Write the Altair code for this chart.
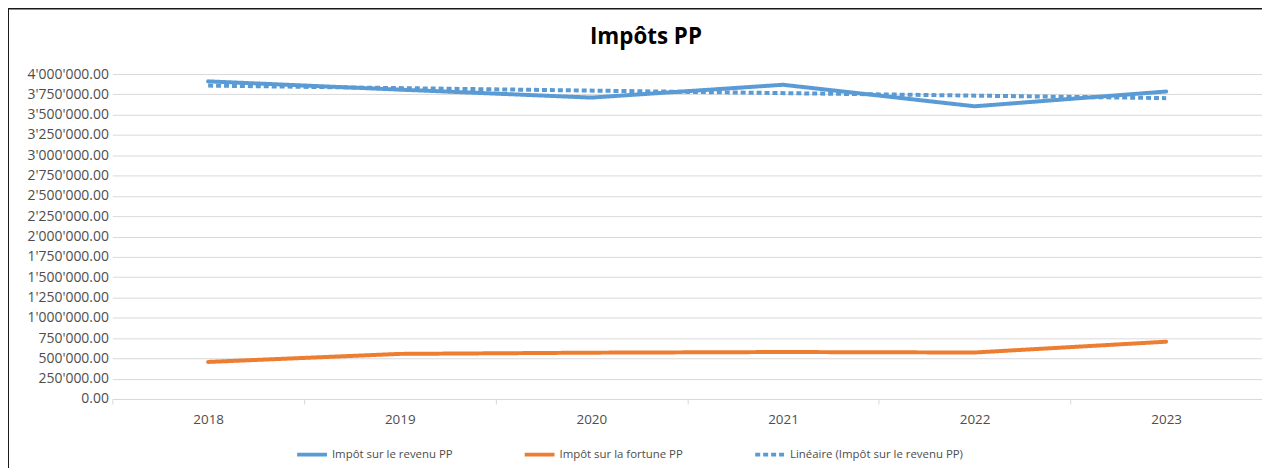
import altair as alt
import pandas as pd

years = [2018, 2019, 2020, 2021, 2022, 2023]
revenu = [3910000, 3808000, 3710000, 3868000, 3603000, 3785000]
fortune = [456000, 555000, 570000, 578000, 572000, 705000]

s_rev = "Impôt sur le revenu PP"
s_fort = "Impôt sur la fortune PP"
s_lin = "Linéaire (Impôt sur le revenu PP)"
series_order = [s_rev, s_fort, s_lin]
colors = ["#5B9BD5", "#ED7D31", "#5B9BD5"]
dashes = [[1, 0], [1, 0], [5, 3]]
widths = [4, 4, 2]
y_ticks = list(range(0, 4000001, 250000))
title_text = ["Impôts PP"]

df = pd.DataFrame({
    "year": years * 2,
    "value": revenu + fortune,
    "serie": [s_rev] * len(years) + [s_fort] * len(years),
})
rev_df = pd.DataFrame({"year": years, "value": revenu})

FONT = "Open Sans"
GRID = "#D9D9D9"
TXT = "#4D4D4D"

x_enc = alt.X(
    "year:O",
    bandPosition=0.5,
    scale=alt.Scale(type="band", paddingInner=0, paddingOuter=0),
    axis=alt.Axis(
        title=None, labelAngle=0, tickBand="extent", grid=False,
        domainColor=GRID, tickColor=GRID, tickSize=5, labelPadding=9,
        labelFontSize=13.5, labelColor=TXT, labelFont=FONT,
    ),
)
y_enc = alt.Y(
    "value:Q",
    scale=alt.Scale(domain=[0, 4000000], nice=False),
    axis=alt.Axis(
        title=None, values=y_ticks, format=",.2f", domain=False, ticks=False,
        gridColor=GRID, labelPadding=4, labelFontSize=14, labelColor=TXT,
        labelFont=FONT,
    ),
)
color_enc = alt.Color(
    "serie:N",
    scale=alt.Scale(domain=series_order, range=colors),
    legend=alt.Legend(
        title=None, orient="none", legendX=184, legendY=366,
        direction="horizontal", symbolType="stroke", symbolSize=900,
        labelFontSize=11.5, labelColor=TXT, labelFont=FONT, columnPadding=64,
        labelOffset=3, labelLimit=500,
    ),
)
dash_enc = alt.StrokeDash(
    "serie:N", scale=alt.Scale(domain=series_order, range=dashes),
    legend=alt.Legend(title=None, labelLimit=500),
)
width_enc = alt.StrokeWidth(
    "serie:N", scale=alt.Scale(domain=series_order, range=widths),
    legend=alt.Legend(title=None, labelLimit=500),
)

lines = alt.Chart(df).mark_line(strokeCap="round", strokeJoin="round").encode(
    x=x_enc, y=y_enc, color=color_enc, strokeDash=dash_enc, strokeWidth=width_enc,
)

trend = (
    alt.Chart(rev_df)
    .transform_regression("year", "value", method="linear")
    .transform_calculate(serie=f"'{s_lin}'")
    .mark_line()
    .encode(x=x_enc, y=y_enc, color=color_enc, strokeDash=dash_enc, strokeWidth=width_enc)
)

frame = alt.Chart(pd.DataFrame({"a": [0]})).mark_rect(
    fill="transparent", stroke="#1a1a1a", strokeWidth=2
).encode(
    x=alt.value(-105), x2=alt.value(1300), y=alt.value(-66), y2=alt.value(500)
)

title = alt.Chart(pd.DataFrame({"t": title_text})).mark_text(
    font=FONT, fontSize=22.5, fontWeight="bold", color="#000000",
    align="center", baseline="middle",
).encode(text="t:N", x=alt.value(537), y=alt.value(-37))

chart = (
    alt.layer(frame, lines, trend, title)
    .properties(
        width=1157,
        height=327,
        autosize="none",
        padding={"left": 105, "top": 65, "right": 0, "bottom": 68},
    )
    .configure(
        locale={"number": {"decimal": ".", "thousands": "'", "grouping": [3], "currency": ["", ""]}}
    )
    .configure_view(stroke=None)
)

chart.save("out.html", embed_options={"renderer": "svg", "actions": False})
